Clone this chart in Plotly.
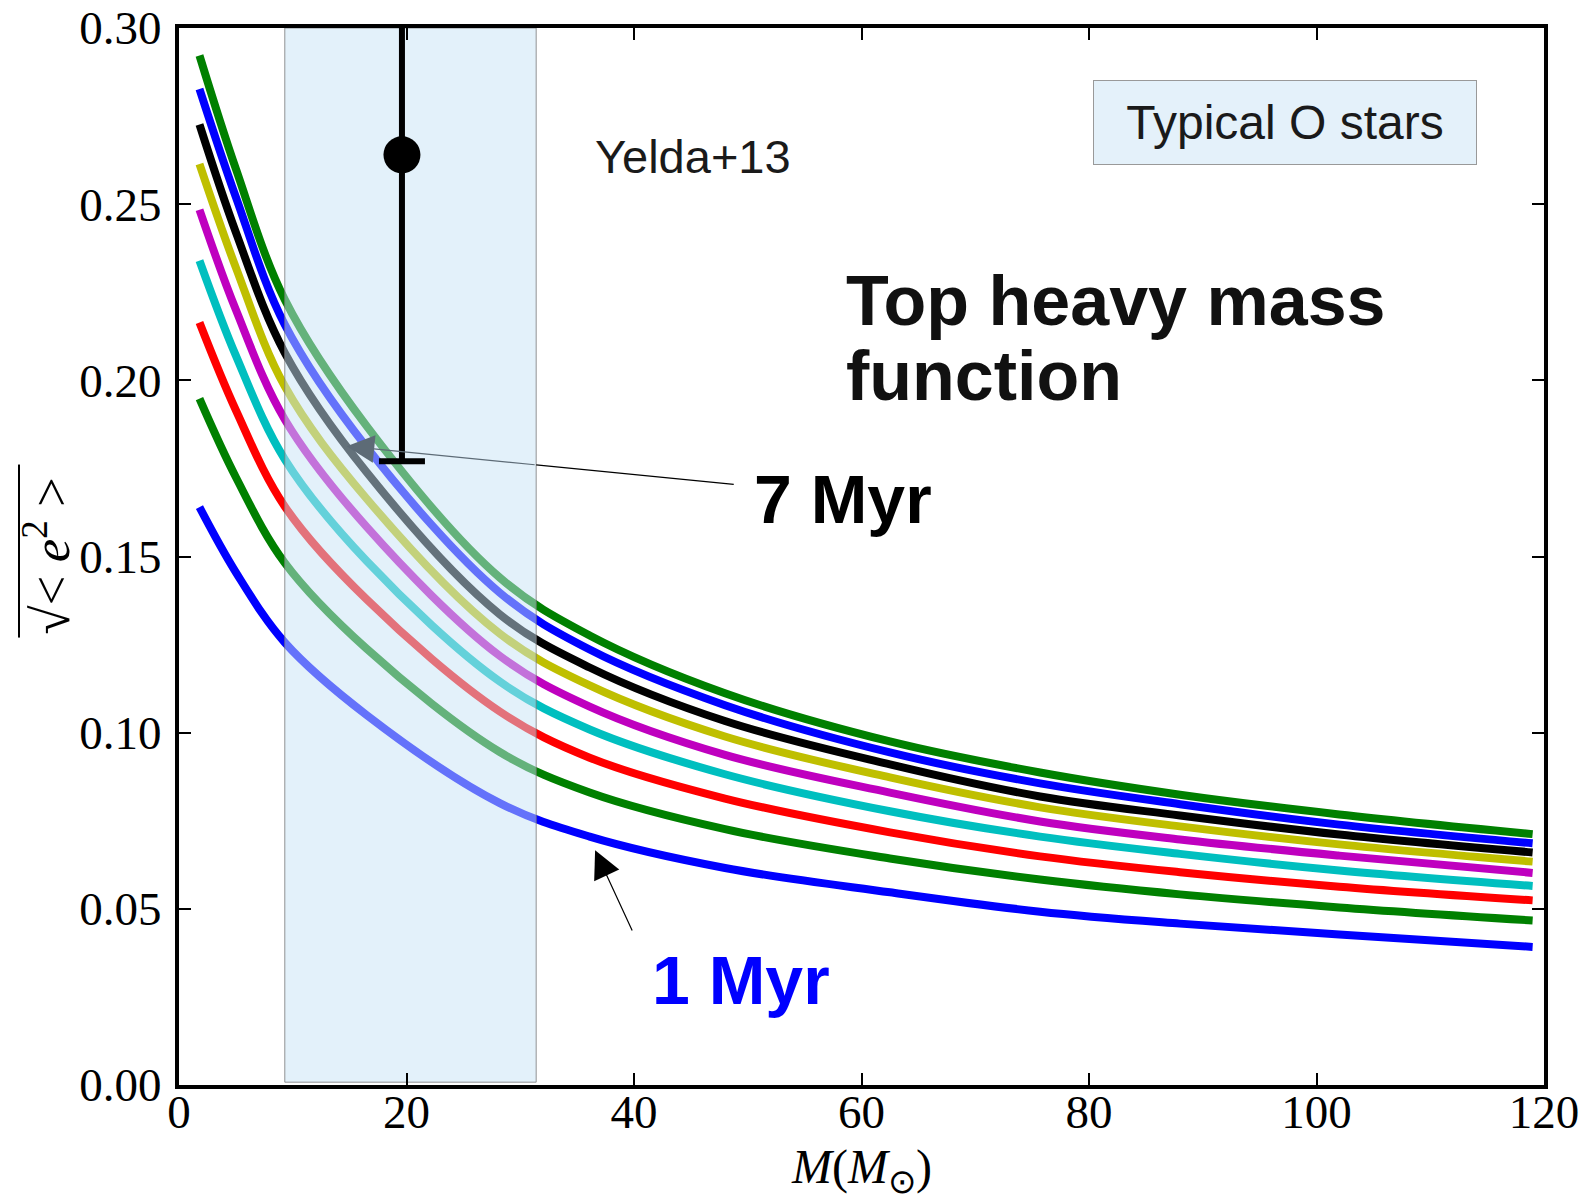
import plotly.graph_objects as go

# ---------------- data ----------------
MASS = [1.8, 5.0, 9.3, 16.5, 28.2, 36.1, 48.0, 62.5, 75.7, 88.0, 102.0, 119.0]

E_GREEN_TOP = [0.2922, 0.2600, 0.2229, 0.1870, 0.1440, 0.1276, 0.1112, 0.0975, 0.0887, 0.0824, 0.0768, 0.0712]
E_BLUE_TOP = [0.2827, 0.2520, 0.2158, 0.1810, 0.1397, 0.1236, 0.1078, 0.0944, 0.0856, 0.0797, 0.0739, 0.0686]
E_BLACK = [0.2726, 0.2420, 0.2078, 0.1739, 0.1336, 0.1185, 0.1033, 0.0910, 0.0819, 0.0765, 0.0711, 0.0660]
E_YELLOW = [0.2614, 0.2320, 0.1983, 0.1664, 0.1281, 0.1134, 0.0989, 0.0873, 0.0788, 0.0734, 0.0683, 0.0634]
E_MAGENTA = [0.2484, 0.2200, 0.1889, 0.1584, 0.1218, 0.1074, 0.0937, 0.0830, 0.0748, 0.0697, 0.0651, 0.0602]
E_CYAN = [0.2340, 0.2070, 0.1776, 0.1487, 0.1145, 0.1009, 0.0882, 0.0777, 0.0705, 0.0656, 0.0609, 0.0565]
E_RED = [0.2164, 0.1915, 0.1642, 0.1378, 0.1060, 0.0929, 0.0813, 0.0717, 0.0649, 0.0604, 0.0563, 0.0524]
E_GREEN_LOW = [0.1948, 0.1725, 0.1482, 0.1238, 0.0945, 0.0830, 0.0726, 0.0643, 0.0583, 0.0541, 0.0504, 0.0467]
E_BLUE_LOW = [0.1640, 0.1455, 0.1256, 0.1050, 0.0800, 0.0705, 0.0616, 0.0547, 0.0492, 0.0458, 0.0427, 0.0392]

SERIES = [E_GREEN_TOP, E_BLUE_TOP, E_BLACK, E_YELLOW, E_MAGENTA,
          E_CYAN, E_RED, E_GREEN_LOW, E_BLUE_LOW]
COLORS = ["#008000", "#0000ff", "#000000", "#bfbf00", "#bf00bf",
          "#00bfbf", "#ff0000", "#008000", "#0000ff"]

# O-star band
BAND_X = [9.3, 31.4]
BAND_Y = [0.0008, 0.30]

# Yelda+13 point
OBS_X = [19.6]
OBS_Y = [0.264]
OBS_LOW = [0.177]
OBS_HIGH = [0.40]

X_TICKS = [0, 20, 40, 60, 80, 100, 120]
Y_TICKS = [0.00, 0.05, 0.10, 0.15, 0.20, 0.25, 0.30]

# ---------------- figure ----------------
fig = go.Figure()

for vals, col in zip(SERIES, COLORS):
    fig.add_trace(go.Scatter(
        x=MASS, y=vals, mode="lines",
        line=dict(color=col, width=8, shape="spline", smoothing=1.0),
        showlegend=False, hoverinfo="skip"))

# translucent band drawn over the curves
fig.add_trace(go.Scatter(
    x=[BAND_X[0], BAND_X[1], BAND_X[1], BAND_X[0], BAND_X[0]],
    y=[BAND_Y[0], BAND_Y[0], BAND_Y[1], BAND_Y[1], BAND_Y[0]],
    mode="lines", fill="toself",
    fillcolor="rgba(200,227,245,0.5)",
    line=dict(color="rgba(120,120,120,0.8)", width=1),
    showlegend=False, hoverinfo="skip"))

# observational point with error bar
fig.add_trace(go.Scatter(
    x=OBS_X, y=OBS_Y, mode="markers",
    marker=dict(color="black", size=37, symbol="circle"),
    error_y=dict(type="data", symmetric=False,
                 array=[OBS_HIGH[0] - OBS_Y[0]],
                 arrayminus=[OBS_Y[0] - OBS_LOW[0]],
                 color="black", thickness=6, width=23),
    showlegend=False, hoverinfo="skip"))

TXT = "Liberation Sans"
SERIF = "Liberation Serif"

ann = []
ann.append(dict(x=97.2, y=0.2731, xref="x", yref="y",
                text="Typical O stars", showarrow=False,
                font=dict(family=TXT, size=48, color="#1a1a1a"),
                bgcolor="#e4f1fa", bordercolor="#999999", borderwidth=1,
                borderpad=0, width=382, height=83,
                xanchor="center", yanchor="middle"))
ann.append(dict(x=36.4, y=0.2636, xref="x", yref="y", text="Yelda+13",
                showarrow=False, xanchor="left", yanchor="middle",
                font=dict(family=TXT, size=47, color="#1a1a1a")))
ann.append(dict(x=58.5, y=0.2224, xref="x", yref="y", text="<b>Top heavy mass</b>",
                showarrow=False, xanchor="left", yanchor="middle",
                font=dict(family=TXT, size=70, color="#111111")))
ann.append(dict(x=58.5, y=0.2011, xref="x", yref="y", text="<b>function</b>",
                showarrow=False, xanchor="left", yanchor="middle",
                font=dict(family=TXT, size=70, color="#111111")))
ann.append(dict(x=50.4, y=0.1663, xref="x", yref="y", text="<b>7 Myr</b>",
                showarrow=False, xanchor="left", yanchor="middle",
                font=dict(family=TXT, size=68, color="black")))
ann.append(dict(x=41.45, y=0.0298, xref="x", yref="y", text="<b>1 Myr</b>",
                showarrow=False, xanchor="left", yanchor="middle",
                font=dict(family=TXT, size=68, color="#0000ff")))
# 7 Myr arrow: black part outside the band, greyish part under the band
ann.append(dict(x=31.4, y=0.1760, ax=48.9, ay=0.1704, xref="x", yref="y",
                axref="x", ayref="y", text="", showarrow=True, arrowhead=0,
                arrowwidth=1.2, arrowcolor="black", standoff=0, startstandoff=0))
ann.append(dict(x=14.74, y=0.1813, ax=31.4, ay=0.1760, xref="x", yref="y",
                axref="x", ayref="y", text="", showarrow=True, arrowhead=2,
                arrowsize=4.6, arrowwidth=1.2, arrowcolor="#5d6b76",
                standoff=0, startstandoff=0))
# 1 Myr arrow
ann.append(dict(x=36.58, y=0.0666, ax=39.9, ay=0.04346, xref="x", yref="y",
                axref="x", ayref="y", text="", showarrow=True, arrowhead=2,
                arrowsize=4.6, arrowwidth=1.2, arrowcolor="black",
                standoff=0, startstandoff=0))
# axis titles
ann.append(dict(x=0.5, y=-0.080, xref="paper", yref="paper",
                text="<i>M</i>(<i>M</i><sub>⊙</sub>)", showarrow=False,
                xanchor="center", yanchor="middle",
                font=dict(family=SERIF, size=48, color="black")))
ann.append(dict(x=-0.0974, y=0.5, xref="paper", yref="paper",
                text="√< <i>e</i><sup>2</sup> >", showarrow=False, textangle=-90,
                xanchor="center", yanchor="middle",
                font=dict(family=SERIF, size=53, color="black")))

shapes = [dict(type="line", xref="paper", yref="paper",
               x0=-0.1172, x1=-0.1172, y0=0.4233, y1=0.587,
               line=dict(color="black", width=2))]

axis_common = dict(showline=True, linewidth=4, linecolor="black", mirror="ticks",
                   ticks="inside", ticklen=12, tickwidth=1.5, tickcolor="black",
                   showgrid=False, zeroline=False, automargin=False,
                   ticklabeloverflow="allow",
                   tickfont=dict(family=SERIF, size=47, color="black"))

# the page body adds an 8 px offset; margins compensate for it
fig.update_layout(
    width=1592, height=1194, autosize=False,
    margin=dict(l=171, r=56, t=20, b=117),
    paper_bgcolor="white", plot_bgcolor="white",
    xaxis=dict(range=[0, 120], tickvals=X_TICKS, ticktext=[str(v) for v in X_TICKS],
               ticklabelstandoff=-17, **axis_common),
    yaxis=dict(range=[0, 0.30], tickvals=Y_TICKS, ticktext=[f"{v:.2f}" for v in Y_TICKS],
               ticklabelstandoff=4, **axis_common),
    annotations=ann, shapes=shapes, showlegend=False)

fig.write_html("out.html")
